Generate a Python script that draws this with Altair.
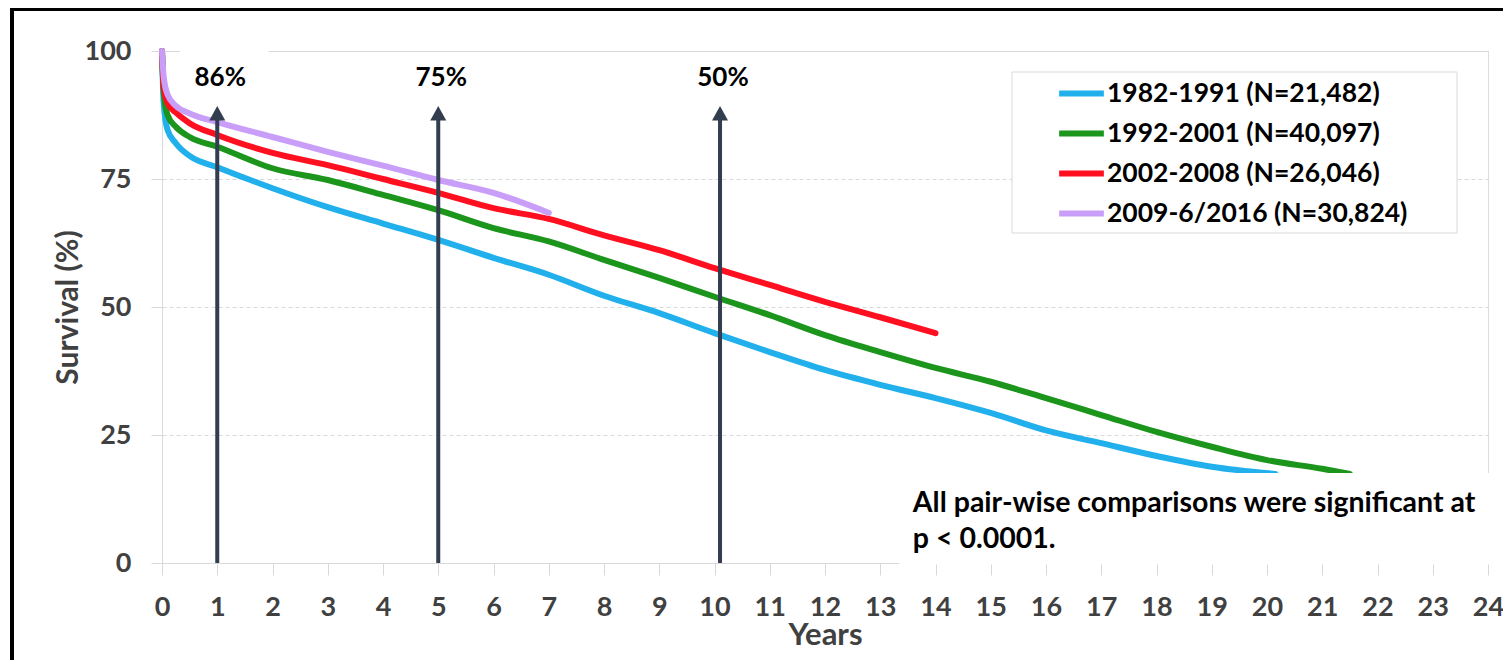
import altair as alt
import pandas as pd

# ---- data ----
series_names = [
    "1982-1991 (N=21,482)",
    "1992-2001 (N=40,097)",
    "2002-2008 (N=26,046)",
    "2009-6/2016 (N=30,824)",
]
series_colors = ["#21b0ec", "#1b951b", "#ff1020", "#c99ef8"]

years_1982 = [0, 0.03, 0.1, 0.25, 0.5, 1, 2, 3, 4, 5, 6, 7, 8, 9, 10, 11, 12, 13, 14, 15, 16, 17, 18, 19, 20.15]
surv_1982 = [100, 90, 84.6, 82, 79.5, 77.3, 73.2, 69.5, 66.3, 63.1, 59.6, 56.3, 52.2, 48.8, 44.9, 41.2, 37.7, 34.8, 32.2, 29.3, 25.9, 23.4, 20.9, 18.8, 17.4]

years_1992 = [0, 0.03, 0.1, 0.25, 0.5, 1, 2, 3, 4, 5, 6, 7, 8, 9, 10, 11, 12, 13, 14, 15, 16, 17, 18, 19, 20, 21, 21.5]
surv_1992 = [100, 92, 87.5, 85.2, 83.2, 81.3, 77.1, 74.8, 71.9, 68.9, 65.4, 62.8, 59.2, 55.7, 52, 48.4, 44.5, 41.2, 38.1, 35.4, 32.2, 28.9, 25.6, 22.7, 20.1, 18.4, 17.4]

years_2002 = [0, 0.03, 0.1, 0.25, 0.5, 1, 2, 3, 4, 5, 6, 7, 8, 9, 10, 11, 12, 13, 14]
surv_2002 = [100, 93, 89.8, 88, 85.9, 83.6, 80.1, 77.7, 75, 72.3, 69.3, 67.2, 64, 61.1, 57.6, 54.3, 51, 48, 44.9]

years_2009 = [0, 0.03, 0.1, 0.25, 0.5, 1, 2, 3, 4, 5, 6, 7]
surv_2009 = [100, 95, 91.5, 89.3, 87.8, 86.1, 83.2, 80.3, 77.6, 74.8, 72.3, 68.4]

arrow_years = [1, 5, 10.1]
arrow_labels = ["86%", "75%", "50%"]

note_lines = ["All pair-wise comparisons were significant at", "p < 0.0001."]
note_y = [11.7, 4.7]

x_ticks = list(range(0, 25))
y_ticks = [0, 25, 50, 75, 100]

# ---- tables ----
rows = []
for name, xs, ys in zip(series_names,
                        [years_1982, years_1992, years_2002, years_2009],
                        [surv_1982, surv_1992, surv_2002, surv_2009]):
    for i, (a, b) in enumerate(zip(xs, ys)):
        rows.append({"series": name, "year": a, "surv": b, "order": i})
curves = pd.DataFrame(rows)

arrows = pd.DataFrame({"year": arrow_years, "label": arrow_labels})
notes = pd.DataFrame({"text": note_lines, "y": note_y})

FONT = "Lato"
AX = "#404040"
GRID = "#d9d9d9"
ARROW = "#323e4f"

W = 1326
xs = alt.Scale(domain=[0, 24], nice=False)
ys = alt.Scale(domain=[0, 100], nice=False)

x_axis = alt.Axis(values=x_ticks, format="d", grid=False, domainColor=GRID, tickColor=GRID, tickSize=12,
                  labelFont=FONT, labelFontWeight="bold", labelFontSize=27, labelColor=AX,
                  labelPadding=19, labelFlush=False, labelOverlap=False,
                  title="Years", titleFont=FONT, titleFontWeight="bold", titleFontSize=31,
                  titleColor=AX, titleX=W / 2, titleY=72, titleBaseline="middle")
y_axis = alt.Axis(values=y_ticks, format="d", grid=True, gridColor=GRID, gridDash=[4, 3], domainColor=GRID,
                  tickColor=GRID, tickSize=11, labelFont=FONT, labelFontWeight="bold",
                  labelFontSize=27, labelColor=AX, labelPadding=20,
                  title="Survival (%)", titleFont=FONT, titleFontWeight="bold", titleFontSize=30,
                  titleColor=AX, titleX=-94, titleY=256, titleAngle=-90, titleAlign="center",
                  titleBaseline="middle")

base = alt.Chart(curves)

lines = base.mark_line(strokeWidth=6, strokeCap="round", strokeJoin="round", interpolate="monotone").encode(
    x=alt.X("year:Q", scale=xs, axis=x_axis),
    y=alt.Y("surv:Q", scale=ys, axis=y_axis),
    color=alt.Color("series:N", scale=alt.Scale(domain=series_names, range=series_colors),
                    legend=alt.Legend(orient="none", legendX=894, legendY=17, title=None,
                                      symbolType="stroke", symbolStrokeWidth=6, symbolSize=2000,
                                      labelFont=FONT, labelFontWeight="bold", labelFontSize=26.5,
                                      labelColor="black", rowPadding=1, padding=0,
                                      labelOffset=0, labelLimit=0)),
    order="order:Q",
)

label_gap = alt.Chart(pd.DataFrame({"a": [0.33], "b": [1.93], "c": [96.5], "d": [101]})).mark_rect(
    color="white").encode(x=alt.X("a:Q", scale=xs), x2="b:Q", y=alt.Y("c:Q", scale=ys), y2="d:Q")

cover = alt.Chart(pd.DataFrame({"a": [13.34], "b": [24.4], "c": [-0.3], "d": [17.6]})).mark_rect(
    color="white").encode(x=alt.X("a:Q", scale=xs), x2="b:Q", y=alt.Y("c:Q", scale=ys), y2="d:Q")

note = alt.Chart(notes).mark_text(align="left", baseline="middle", font=FONT, fontWeight="bold",
                                  fontSize=28.5, color="black").encode(
    x=alt.datum(13.59, scale=xs), y=alt.Y("y:Q", scale=ys), text="text:N")

arrow_base = alt.Chart(arrows)
shafts = arrow_base.mark_rule(strokeWidth=4, color=ARROW).encode(
    x=alt.X("year:Q", scale=xs), y=alt.datum(0, scale=ys), y2=alt.datum(87.0))
heads = arrow_base.mark_point(shape="M0,-1L1,0.8L-1,0.8Z", size=256, filled=True, opacity=1,
                              color=ARROW).encode(
    x=alt.X("year:Q", scale=xs), y=alt.datum(87.7, scale=ys))
pct = arrow_base.mark_text(font=FONT, fontWeight="bold", fontSize=26, color="black",
                           baseline="middle", dx=3).encode(
    x=alt.X("year:Q", scale=xs), y=alt.datum(94.7, scale=ys), text="label:N")

legend_box = alt.Chart(pd.DataFrame({"k": [0]})).mark_rect(
    fill="white", stroke=GRID, strokeWidth=1).encode(
    x=alt.value(850), x2=alt.value(1295), y=alt.value(21), y2=alt.value(182))

frame = alt.Chart(pd.DataFrame({"k": [0]})).mark_rect(
    fill=None, stroke="black", strokeWidth=4).encode(
    x=alt.value(-150), x2=alt.value(1420), y=alt.value(-42), y2=alt.value(720))

chart = alt.layer(label_gap, lines, cover, note, shafts, heads, pct, legend_box, frame).properties(
    width=W, height=512,
    padding={"left": 154, "top": 43, "right": 15, "bottom": 97},
    autosize=alt.AutoSizeParams(type="none"),
).configure_view(stroke=GRID, strokeWidth=1).configure(background="white")

chart.save("out.html", embed_options={"renderer": "svg", "actions": False})
